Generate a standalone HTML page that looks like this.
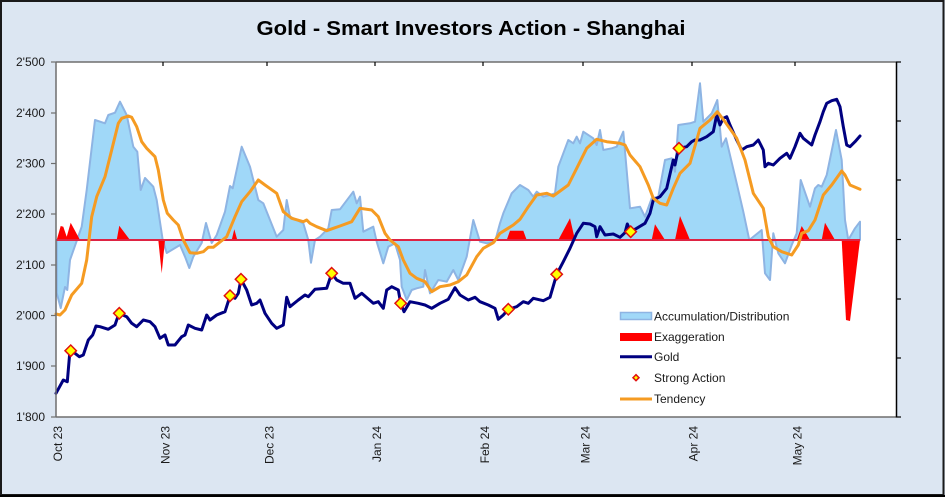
<!DOCTYPE html>
<html><head><meta charset="utf-8"><style>
html,body{margin:0;padding:0;background:#dce6f2;}
svg{display:block;font-family:"Liberation Sans",Arial,sans-serif;}
</style></head><body>
<svg width="945" height="497" viewBox="0 0 945 497" xmlns="http://www.w3.org/2000/svg">
<rect x="0" y="0" width="945" height="497" fill="#dce6f2"/>
<rect x="1" y="1" width="942.5" height="494" fill="none" stroke="#1a1a1a" stroke-width="2"/>
<line x1="0" y1="496" x2="945" y2="496" stroke="#000" stroke-width="2"/>
<text x="471" y="35" text-anchor="middle" font-size="20" font-weight="bold" textLength="429" lengthAdjust="spacingAndGlyphs" fill="#000">Gold - Smart Investors Action - Shanghai</text>

<rect x="56" y="62" width="840" height="355" fill="#ffffff"/>

<!-- A/D area -->
<polygon fill="#a0d8f8" stroke="#8eb4e3" stroke-width="2" stroke-linejoin="round" points="56.7,240 56.7,293 60.7,308 65,287 67.3,290 70,260 81.7,226.7 86.7,190 95,120 105,123.3 108.3,115 115,112.7 120,101.7 126.7,115 133.3,146.7 137.3,151.7 140.7,190 145,178 153.3,186.7 156.7,200 162.7,240 166.7,253 171.7,250 180,245 185,256.7 189.3,268 193.3,256.7 201.7,243 206,223 211.7,243 216.7,235 225,211.7 230,186 232.7,188.3 241.7,146.7 250,166.7 258.3,200 263.3,203.3 276.7,236.7 283.3,230 286.7,200 290,216.7 303.3,223.3 308.3,240 311,262.7 315,240 320,236.7 328.3,228.3 331.7,210 340,209.3 353.3,191.7 356.7,203.3 360,196.7 363.3,231.7 373.3,226.7 376.7,241.7 383.3,263.3 388.3,246.7 395,243.3 400,260 401.7,286.7 406.7,300 411.7,290 416.7,288.3 423.3,286.7 425,270 430,293.3 438.3,280 446.7,281.7 453.3,270 458.3,280 466.7,256.7 473.3,220 480,241.7 486.7,243.3 495,241.7 500,223.3 503.3,213.3 511.7,193.3 520,185 528.3,190 533.3,196.7 536.7,191.7 543.3,196.7 550,195 555,193.3 558.3,166.7 563.3,153.3 568.3,140 573.3,143.3 576.7,136.7 580,143.3 583.3,131.7 593.3,138.3 596.7,145 600,130 603.3,150 611.7,148.3 616.7,146.7 623.3,131.7 630,208.3 640,206.7 645,216.7 651.7,198.3 658.3,196.7 665,160 671.7,158.3 675,171.7 678.3,125 690,123.3 695,121.7 700,83.3 703.3,121.7 711.7,113.3 717.3,100 721.7,146.7 726,138.3 736.7,183.3 743.3,211.7 749.3,240 761.7,230 765,273.3 770,280 773.3,233.3 778.3,253.3 785,263.3 791.7,245 796.7,233.3 800.7,180 810,206.7 815,188.3 818.3,185 821.7,186.7 826.7,175 836,130 841.7,160 845,220 848.3,240 855,228.3 860,221.7 860,240"/>

<!-- Exaggeration -->
<g fill="#ff0000">
<polygon points="56.7,240 60.7,226 63.3,226.7 66.7,236.7 70.7,222.7 80,240"/>
<polygon points="116.7,240 119.3,225.7 130,240"/>
<polygon points="158.3,240 161.7,273.3 165,240"/>
<polygon points="231.7,240 234.3,229.3 237.3,240"/>
<polygon points="506.7,240 510,230.7 523.3,230.7 526.7,240"/>
<polygon points="558.3,240 570,218.3 575,240"/>
<polygon points="651.7,240 655,224.3 665,240"/>
<polygon points="675,240 680,216 690,240"/>
<polygon points="796.7,240 801.7,226 810,240"/>
<polygon points="821.7,240 825,222.7 835,240"/>
<polygon points="841.7,240 846,320 850,321 860,240"/>
</g>
<line x1="56" y1="240" x2="860" y2="240" stroke="#de2343" stroke-width="2"/>

<!-- Gold -->
<polyline fill="none" stroke="#000080" stroke-width="3" stroke-linejoin="round" stroke-linecap="round" points="56,393.3 63.3,380 67.3,381.7 70,350 75,353.3 79.3,356.7 83.3,355 88.3,340 92.7,335 96,326 100,326.7 108.3,329.3 115,325 119,313.3 126.7,316.7 131.7,323.3 136.7,326.7 143.3,320 150,321.7 155,326.7 160,338.3 165,335 168.3,345 175,345 181.7,336.7 185,335 188.3,325 195,328.3 201.7,330 206.7,315 210,320 216.7,315 225,311.7 230,296 235,298.3 238.3,293.3 241,279.3 246.7,290 251.7,305 256.7,303.3 260,300 265,313.3 271.7,323.3 276.7,328.3 283.3,325 286.7,297.3 290,306.7 298.3,300 305,295 308.3,296.7 315,289.3 326.7,288.3 331.7,273.3 336.7,280 343.3,283.3 350,283.3 355,298.3 361.7,293.3 373.3,303.3 378.3,301.7 383.3,308.3 386.7,290 391.7,286.7 398.3,290 400.7,303.3 404,311.7 410,301.7 418.3,303.3 425,305 431.7,308.3 440,303.3 448.3,299.3 455,287.7 460,295 468.3,300 475,297.3 480,301.7 488.3,305 495,308.3 498.3,319.3 503.3,315 508.3,309.3 516.7,306.7 523.3,301.7 528.3,303.3 533.3,298.3 543.3,300.7 550,297.3 556.7,274.3 563.3,261.7 570,248.3 576.7,233.3 583.3,223.3 590,224 595,226.7 596.7,236.7 600,226.7 605,235 613.3,234 620,237.3 625,232.7 627.3,224 630.7,231.7 636.7,228.3 645,223.3 650,213.3 653.3,200 660,196.7 666.7,188.3 671.7,166.7 673.3,160 675,165 676.7,156.7 679,148.3 686.7,146.7 691.7,141.7 695,140 700,140 706.7,136.7 713.3,131.7 716.7,115 720,125 723.3,118.3 726.7,116.7 730,125 736.7,140 741.7,150 746.7,146.7 753.3,145 758.3,140 763.3,150 765,166.7 768.3,163.3 773.3,165 780,158.3 786.7,153.3 790,158.3 795,146.7 800,133.3 803.3,138.3 811.7,145 815,135 820,121.7 823.3,111.7 826.7,103.3 831.7,100.7 836.7,99.3 840,106.7 843.3,126.7 846.7,145 850,146.7 855,141.7 860,136"/>

<!-- Tendency -->
<polyline fill="none" stroke="#f59b22" stroke-width="3" stroke-linejoin="round" stroke-linecap="round" points="56,314 60,315 65,310 71.7,295 81.7,283.3 86.7,260 91.7,216.7 96.7,196.7 105,176.7 111.7,150 118.3,123.3 121.7,118.3 128.3,116 131.7,117.3 136.7,126.7 141.7,141.7 146.7,148.3 155,156.7 158.3,170 163.3,200 167.3,213.3 173.3,220 178.3,225 183.3,240 190,252.7 196.7,253.3 203.3,251.7 208.3,247.3 213.3,247.3 226.7,236.7 235,216.7 241.7,201.7 250,191.7 258.3,180 265,185 276.7,193.3 283.3,211.7 291.7,218.3 303.3,221.7 306.7,220 310,223.3 316.7,226.7 326.7,230.7 333.3,228.3 340,226 351.7,221.7 360,208.3 371.7,210 378.3,216.7 385,233.3 390,240 398.3,246.7 403.3,260 410,273.3 416.7,278.3 425,281.7 431.7,291.7 440,286.7 450,285 458.3,281.7 466.7,275 476.7,256.7 483.3,248.3 493.3,242.7 500,233.3 513.3,225 520,219.3 528.3,206.7 536.7,195 546.7,193.3 553.3,196 568.3,185 576.7,168.3 586.7,148.3 596.7,139.3 606.7,141.7 620,143.3 625,145 630,155 640,166.7 648.3,185 653.3,198.3 660,203.3 666.7,205 673.3,188.3 680,173.3 690,163.3 696.7,140 700,128.3 710,120 717.3,111.7 725,121.7 736.7,138.3 745,160 753.3,193.3 763.3,208.3 768.3,236.7 773.3,246.7 781.7,251.7 791.7,255 798.3,245 801.7,233.3 808.3,230.7 815,220 823.3,195 831.7,185 841.7,171 845,175 850,185 860,189.3"/>

<!-- Strong Action diamonds -->
<g fill="#ffff00" stroke="#e01010" stroke-width="1.5">
<polygon points="70.7,345 76.4,350.7 70.7,356.4 65,350.7"/>
<polygon points="119.3,307.6 125,313.3 119.3,319 113.6,313.3"/>
<polygon points="230,290 235.7,295.7 230,301.4 224.3,295.7"/>
<polygon points="241,273.6 246.7,279.3 241,285 235.3,279.3"/>
<polygon points="331.7,267.6 337.4,273.3 331.7,279 326,273.3"/>
<polygon points="400.7,297.6 406.4,303.3 400.7,309 395,303.3"/>
<polygon points="508.3,303.6 514,309.3 508.3,315 502.6,309.3"/>
<polygon points="556.7,268.6 562.4,274.3 556.7,280 551,274.3"/>
<polygon points="630.7,226 636.4,231.7 630.7,237.4 625,231.7"/>
<polygon points="679,142.6 684.7,148.3 679,154 673.3,148.3"/>
</g>

<!-- Axes -->
<line x1="56" y1="62" x2="896" y2="62" stroke="#6e6e6e" stroke-width="1.5"/>
<line x1="56" y1="62" x2="56" y2="417" stroke="#6e6e6e" stroke-width="1.5"/>
<line x1="56" y1="417" x2="896" y2="417" stroke="#6e6e6e" stroke-width="1.5"/>
<line x1="896.5" y1="62" x2="896.5" y2="417.5" stroke="#000" stroke-width="1.5"/>
<g stroke="#6e6e6e" stroke-width="1.2">
<line x1="51" y1="62" x2="56" y2="62"/>
<line x1="51" y1="113" x2="56" y2="113"/>
<line x1="51" y1="163.5" x2="56" y2="163.5"/>
<line x1="51" y1="214" x2="56" y2="214"/>
<line x1="51" y1="265" x2="56" y2="265"/>
<line x1="51" y1="315.5" x2="56" y2="315.5"/>
<line x1="51" y1="366" x2="56" y2="366"/>
<line x1="51" y1="417" x2="56" y2="417"/>
</g>
<g stroke="#000" stroke-width="1.2">
<line x1="163" y1="62" x2="163" y2="66"/>
<line x1="267" y1="62" x2="267" y2="66"/>
<line x1="375" y1="62" x2="375" y2="66"/>
<line x1="483" y1="62" x2="483" y2="66"/>
<line x1="583" y1="62" x2="583" y2="66"/>
<line x1="692" y1="62" x2="692" y2="66"/>
<line x1="795" y1="62" x2="795" y2="66"/>
<line x1="896" y1="62" x2="901" y2="62"/>
<line x1="896" y1="121" x2="901" y2="121"/>
<line x1="896" y1="180" x2="901" y2="180"/>
<line x1="896" y1="239.5" x2="901" y2="239.5"/>
<line x1="896" y1="299" x2="901" y2="299"/>
<line x1="896" y1="358" x2="901" y2="358"/>
<line x1="896" y1="417" x2="901" y2="417"/>
</g>

<g font-size="12" fill="#1a1a1a" text-anchor="end">
<text x="45" y="66">2'500</text>
<text x="45" y="117">2'400</text>
<text x="45" y="167.5">2'300</text>
<text x="45" y="218">2'200</text>
<text x="45" y="269">2'100</text>
<text x="45" y="319.5">2'000</text>
<text x="45" y="370">1'900</text>
<text x="45" y="421">1'800</text>
</g>
<g font-size="12" fill="#1a1a1a" text-anchor="end">
<text transform="translate(62,426) rotate(-90)">Oct 23</text>
<text transform="translate(169.5,426) rotate(-90)">Nov 23</text>
<text transform="translate(273.5,426) rotate(-90)">Dec 23</text>
<text transform="translate(381,426) rotate(-90)">Jan 24</text>
<text transform="translate(489,426) rotate(-90)">Feb 24</text>
<text transform="translate(589.5,426) rotate(-90)">Mar 24</text>
<text transform="translate(697.5,426) rotate(-90)">Apr 24</text>
<text transform="translate(801.5,426) rotate(-90)">May 24</text>
</g>

<!-- Legend -->
<rect x="620.5" y="312.5" width="31" height="7" fill="#a0d8f8" stroke="#8eb4e3" stroke-width="1.5"/>
<rect x="620" y="333" width="32" height="8" fill="#ff0000"/>
<line x1="620" y1="356.7" x2="652" y2="356.7" stroke="#000080" stroke-width="3"/>
<polygon points="636,374.7 639,377.7 636,380.7 633,377.7" fill="#ffff00" stroke="#e01010" stroke-width="1.5"/>
<line x1="620" y1="399" x2="652" y2="399" stroke="#f59b22" stroke-width="3"/>
<g font-size="12" fill="#1a1a1a">
<text x="654" y="320.5">Accumulation/Distribution</text>
<text x="654" y="341">Exaggeration</text>
<text x="654" y="361">Gold</text>
<text x="654" y="382">Strong Action</text>
<text x="654" y="403">Tendency</text>
</g>
</svg>
</body></html>
